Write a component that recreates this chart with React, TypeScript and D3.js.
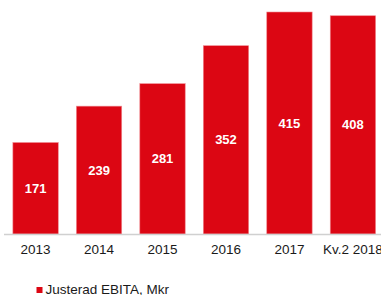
import React, { useEffect, useRef } from "react";
import * as d3 from "d3";

const categories = ["2013", "2014", "2015", "2016", "2017", "Kv.2 2018"];
const ebitaValues = [171, 239, 281, 352, 415, 408];
const seriesName = "Justerad EBITA, Mkr";

const App = () => {
  const chartRef = useRef<SVGSVGElement>(null);

  useEffect(() => {
    const width = 381;
    const height = 295;
    const svg = d3.select(chartRef.current);
    svg.selectAll("*").remove();

    const baseline = 234;
    const red = "#dc0613";
    const font = "Liberation Sans, Arial, sans-serif";

    const x = d3
      .scaleBand()
      .domain(categories)
      .range([4, 384.5])
      .paddingInner(0.285)
      .paddingOuter(0.14);

    const y = d3.scaleLinear().domain([0, 415]).range([baseline, 12]);

    const data = categories.map((c, i) => ({ label: c, value: ebitaValues[i] }));

    svg
      .selectAll("rect.bar")
      .data(data)
      .enter()
      .append("rect")
      .attr("class", "bar")
      .attr("x", (d) => x(d.label)!)
      .attr("y", (d) => y(d.value))
      .attr("width", x.bandwidth())
      .attr("height", (d) => baseline - y(d.value))
      .attr("fill", red)
      .attr("stroke", "#f08a90")
      .attr("stroke-width", 0.6);

    // value labels in the middle of each bar
    svg
      .selectAll("text.val")
      .data(data)
      .enter()
      .append("text")
      .attr("class", "val")
      .attr("x", (d) => x(d.label)! + x.bandwidth() / 2)
      .attr("y", (d) => (y(d.value) + baseline) / 2)
      .attr("dy", "0.35em")
      .attr("text-anchor", "middle")
      .style("font-family", font)
      .style("font-size", "13px")
      .style("font-weight", "bold")
      .style("fill", "#fff")
      .text((d) => d.value);

    // axis line
    svg
      .append("line")
      .attr("x1", 4)
      .attr("x2", width)
      .attr("y1", baseline + 0.5)
      .attr("y2", baseline + 0.5)
      .attr("stroke", "#d0d0d0")
      .attr("stroke-width", 1.5);

    svg
      .selectAll("text.cat")
      .data(categories)
      .enter()
      .append("text")
      .attr("class", "cat")
      .attr("x", (d) => x(d)! + x.bandwidth() / 2)
      .attr("y", 253.5)
      .attr("text-anchor", "middle")
      .style("font-family", font)
      .style("font-size", "13.5px")
      .style("fill", "#1a1a1a")
      .text((d) => d);

    // legend
    svg
      .append("rect")
      .attr("x", 36.5)
      .attr("y", 287)
      .attr("width", 6)
      .attr("height", 6)
      .attr("fill", red);

    svg
      .append("text")
      .attr("x", 45.5)
      .attr("y", 293.5)
      .style("font-family", font)
      .style("font-size", "13.5px")
      .style("fill", "#1a1a1a")
      .text(seriesName);
  }, []);

  return (
    <svg
      ref={chartRef}
      width={381}
      height={295}
      style={{ position: "absolute", left: 0, top: 0, background: "#fff" }}
    />
  );
};

export default App;
